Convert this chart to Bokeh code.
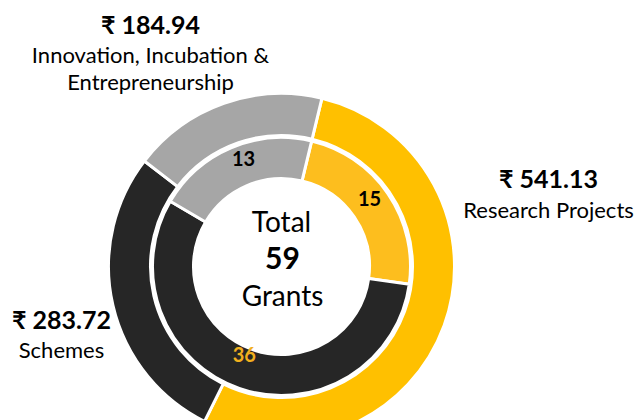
import numpy as np
from bokeh.plotting import figure
from bokeh.models import Range1d, ColumnDataSource
from bokeh.core.properties import value
from bokeh.embed import file_html
from bokeh.resources import INLINE

# ---- data ----
categories = ["Research Projects", "Schemes", "Innovation, Incubation & Entrepreneurship"]
amounts = [541.13, 283.72, 184.94]          # outer ring (₹)
grants = [15, 36, 13]                        # inner ring (number of grants)
total_grants = 59
amount_labels = ["₹ 541.13", "₹ 283.72", "₹ 184.94"]
category_lines = [["Research Projects"], ["Schemes"], ["Innovation, Incubation &", "Entrepreneurship"]]

outer_colors = ["#FFC000", "#262626", "#A6A6A6"]
inner_colors = ["#FDBE1E", "#262626", "#A6A6A6"]
inner_text_colors = ["#000000", "#F2B01E", "#000000"]

# ---- layout (data units = px; page y measured from top) ----
W, H = 639, 420
CX, CY_PAGE = 281, 266
START_DEG = 13.5
R_HOLE, R_IN_OUT = 88, 129
R_OUT_IN, R_OUT_OUT = 131, 173
FONT = "Lato"
OFF = 1.5   # renderer places the text's cap-centre slightly below the anchor

def Y(page_y):
    return H - page_y

def angles(vals, start_deg):
    v = np.asarray(vals, dtype=float)
    frac = np.concatenate([[0.0], np.cumsum(v) / v.sum()])
    base = np.pi / 2 - np.deg2rad(start_deg)
    return base - 2 * np.pi * frac[:-1], base - 2 * np.pi * frac[1:]

p = figure(width=W, height=H, x_range=Range1d(0, W), y_range=Range1d(0, H),
           output_backend="svg", toolbar_location=None,
           x_axis_location=None, y_axis_location=None, min_border=0)
p.grid.visible = False
p.outline_line_color = None
p.background_fill_color = "white"

CY = Y(CY_PAGE)
os_, oe_ = angles(amounts, START_DEG)
outer = ColumnDataSource(dict(start=os_, end=oe_, color=outer_colors, cat=categories))
p.annular_wedge(x=CX, y=CY, inner_radius=R_OUT_IN, outer_radius=R_OUT_OUT,
                start_angle="start", end_angle="end", direction="clock",
                fill_color="color", line_color="white", line_width=3, source=outer)

is_, ie_ = angles(grants, START_DEG)
inner = ColumnDataSource(dict(start=is_, end=ie_, color=inner_colors, cat=categories))
p.annular_wedge(x=CX, y=CY, inner_radius=R_HOLE, outer_radius=R_IN_OUT,
                start_angle="start", end_angle="end", direction="clock",
                fill_color="color", line_color="white", line_width=3, source=inner)

def txt(x, page_y, s, size, bold=False, color="black"):
    p.text(x=[x], y=[Y(page_y - OFF)], text=[s], text_font=value(FONT),
           text_font_style="bold" if bold else "normal", text_font_size=size,
           text_color=color, text_align="center", text_baseline="alphabetic")

# inner ring numbers near segment mid-angles
mid = (is_ + ie_) / 2
label_r = [110, 97, 113]
label_da = [0.045, -0.06, -0.06]   # small angular nudges (radians)
for g, r, a, da, c in zip(grants, label_r, mid, label_da, inner_text_colors):
    x = CX + r * np.cos(a + da)
    py = CY_PAGE - r * np.sin(a + da)
    txt(x, py, str(g), "20px", bold=True, color=c)

# centre text
txt(CX, 222, "Total", "28px")
txt(CX + 1, 259, str(total_grants), "30px", bold=True)
txt(CX + 1, 296, "Grants", "28px")

# outer labels (value + category), cap-centre page y
label_x = [548, 61, 150]
value_y = [179, 319.5, 24.5]
for lxv, vy, amt, lines in zip(label_x, value_y, amount_labels, category_lines):
    txt(lxv, vy, amt, "25px", bold=True)
    for i, ln in enumerate(lines):
        txt(lxv, vy + 31 + 27 * i, ln, "22px")

open("out.html", "w").write(file_html(p, INLINE))
